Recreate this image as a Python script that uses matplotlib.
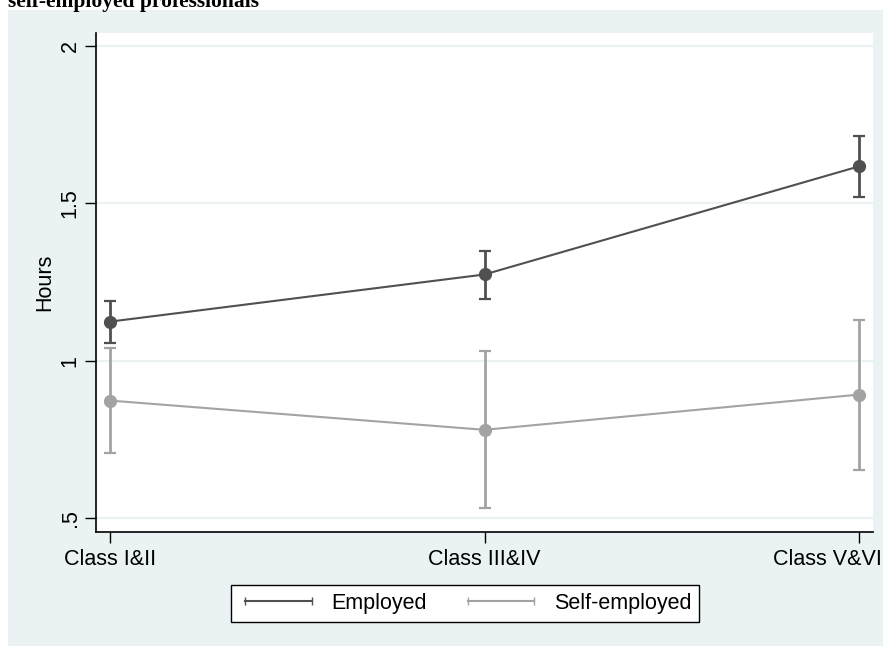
import matplotlib
matplotlib.use("Agg")
import matplotlib.pyplot as plt
import matplotlib.transforms as mtransforms
from matplotlib.patches import Rectangle
from matplotlib.lines import Line2D

plt.rcParams['font.family'] = ['Liberation Sans', 'DejaVu Sans']

# mean hours and 95% CI by social class
classes = ["Class I&II", "Class III&IV", "Class V&VI"]
emp_mean = [1.124, 1.274, 1.618]
emp_lo = [1.057, 1.197, 1.522]
emp_hi = [1.190, 1.350, 1.713]
self_mean = [0.873, 0.780, 0.892]
self_lo = [0.707, 0.532, 0.653]
self_hi = [1.041, 1.032, 1.130]
yticks = [0.5, 1.0, 1.5, 2.0]
ytick_labels = [".5", "1", "1.5", "2"]

emp_col = "#505050"
self_col = "#a3a3a3"
bg_col = "#eaf2f3"
fs = 15.5

W, H = 883, 646
fig = plt.figure(figsize=(W / 100, H / 100), dpi=100)
fig.patch.set_facecolor("white")
fig.patches.append(Rectangle((8 / W, 0), 1 - 8 / W, (H - 10) / H,
                             transform=fig.transFigure, facecolor=bg_col,
                             edgecolor="none", zorder=-10))

fig.text(8 / W, 1 - 7 / H, "self-employed professionals", family="Liberation Serif",
         fontweight="bold", fontsize=15.5, va="baseline", ha="left")

ax = fig.add_axes([96 / W, 1 - 532 / H, (873 - 96) / W, (532 - 33) / H])
ax.set_facecolor("white")

x = list(range(len(classes)))


def draw(mean, lo, hi, col, label):
    err = [[m - l for m, l in zip(mean, lo)], [h - m for m, h in zip(mean, hi)]]
    ax.errorbar(x, mean, yerr=err, color=col, ecolor=col, elinewidth=2,
                capsize=4.5, capthick=1.6, marker="o", markersize=8.5,
                linewidth=1.5, label=label, zorder=3)


draw(emp_mean, emp_lo, emp_hi, emp_col, "Employed")
draw(self_mean, self_lo, self_hi, self_col, "Self-employed")

ax.set_xlim(-0.037, 2.037)
ax.set_ylim(0.455, 2.042)
ax.set_xticks(x)
ax.set_xticklabels(classes, fontsize=fs)
ax.set_yticks(yticks)
ax.set_yticklabels(ytick_labels, fontsize=fs, rotation=90, va="center")
ax.tick_params(axis="both", direction="out", length=8, width=1, color="black")
ax.tick_params(axis="y", pad=3)
ax.tick_params(axis="x", pad=4)
ax.set_ylabel("Hours", fontsize=fs, labelpad=3)

# keep the last category label inside the figure
last = ax.get_xticklabels()[-1]
last.set_horizontalalignment("right")
last.set_transform(last.get_transform() +
                   mtransforms.ScaledTranslation(23 / 100, 0, fig.dpi_scale_trans))

ax.grid(axis="y", color=bg_col, linewidth=1.5)
ax.set_axisbelow(True)
for side in ("top", "right"):
    ax.spines[side].set_visible(False)
for side in ("left", "bottom"):
    ax.spines[side].set_linewidth(1.2)
    ax.spines[side].set_color("black")

handles = [Line2D([0, 1], [0, 0], color=emp_col, lw=1.5, marker="|", markersize=6),
           Line2D([0, 1], [0, 0], color=self_col, lw=1.5, marker="|", markersize=6)]
leg = fig.legend(handles, ["Employed", "Self-employed"], loc="center",
                 bbox_to_anchor=(465 / W, 1 - 603.5 / H), ncol=2, fontsize=fs,
                 numpoints=2, handlelength=3.7, handletextpad=0.6,
                 columnspacing=1.6, frameon=True, fancybox=False,
                 borderpad=0.35, borderaxespad=0)
leg.get_frame().set_edgecolor("black")
leg.get_frame().set_linewidth(1.0)
leg.get_frame().set_facecolor("white")
leg.get_frame().set_alpha(1)

fig.savefig("out.png", dpi=100)
